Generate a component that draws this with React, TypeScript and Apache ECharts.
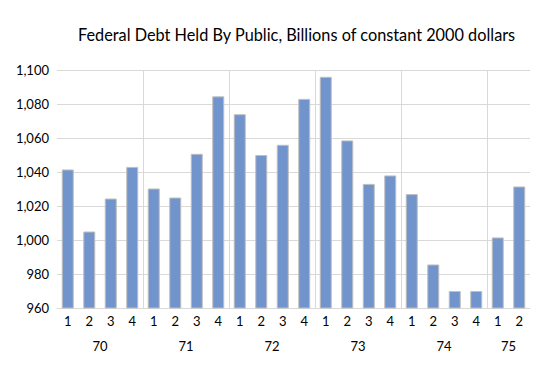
import React, { useEffect, useRef } from "react";
import * as echarts from "echarts";

const quarters = ["1","2","3","4","1","2","3","4","1","2","3","4","1","2","3","4","1","2","3","4","1","2"];
const debt = [1041.5, 1005, 1024.4, 1043, 1030.3, 1025, 1050.7, 1084.5, 1074, 1050, 1056, 1083, 1096, 1058.6, 1033, 1038, 1027, 985.6, 970, 970, 1001.5, 1031.5];
const years = ["70", "71", "72", "73", "74", "75"];
const yearCenters = [2, 6, 10, 14, 18, 21];

export default function App() {
  const ref = useRef<HTMLDivElement>(null);
  useEffect(() => {
    const chart = echarts.init(ref.current!, null, { renderer: "svg" });
    const font = "Lato, 'Open Sans', sans-serif";
    chart.setOption({
      animation: false,
      textStyle: { fontFamily: font },
      title: {
        text: "Federal Debt Held By Public, Billions of constant 2000 dollars",
        left: 73,
        top: 21,
        textStyle: { fontFamily: font, fontSize: 16.3, fontWeight: "normal", color: "#000" },
      },
      grid: { left: 57, right: 17, top: 70, bottom: 83 },
      xAxis: [
        {
          type: "category",
          data: quarters,
          position: "bottom",
          axisLine: { show: true, lineStyle: { color: "#D9D9D9" } },
          axisTick: { show: false },
          axisLabel: { color: "#000", fontSize: 13, margin: 6, interval: 0, fontFamily: font },
          splitLine: { show: false },
        },
        {
          type: "value",
          min: 0,
          max: 22,
          interval: 4,
          position: "bottom",
          offset: 25,
          axisLine: { show: false },
          axisTick: { show: false },
          axisLabel: {
            customValues: yearCenters,
            formatter: (v: number) => {
              const i = yearCenters.indexOf(v);
              return i >= 0 ? years[i] : "";
            },
            color: "#000",
            fontSize: 13,
            margin: 6,
            fontFamily: font,
          },
          splitLine: { show: true, showMinLine: false, showMaxLine: false, lineStyle: { color: "#D9D9D9" } },
        },
      ],
      yAxis: {
        type: "value",
        min: 960,
        max: 1100,
        interval: 20,
        axisLine: { show: false },
        axisTick: { show: false },
        axisLabel: {
          color: "#000",
          fontSize: 13,
          margin: 8,
          fontFamily: font,
          formatter: (v: number) => v.toLocaleString("en-US"),
        },
        splitLine: { lineStyle: { color: "#D9D9D9" } },
      },
      series: [
        {
          type: "bar",
          xAxisIndex: 0,
          data: debt,
          barWidth: 12,
          itemStyle: { color: "#7294CC", borderColor: "#BFBFBF", borderWidth: 1 },
        },
      ],
    });
    return () => chart.dispose();
  }, []);
  return <div ref={ref} style={{ position: "absolute", left: 0, top: 0, width: 547, height: 391 }} />;
}
